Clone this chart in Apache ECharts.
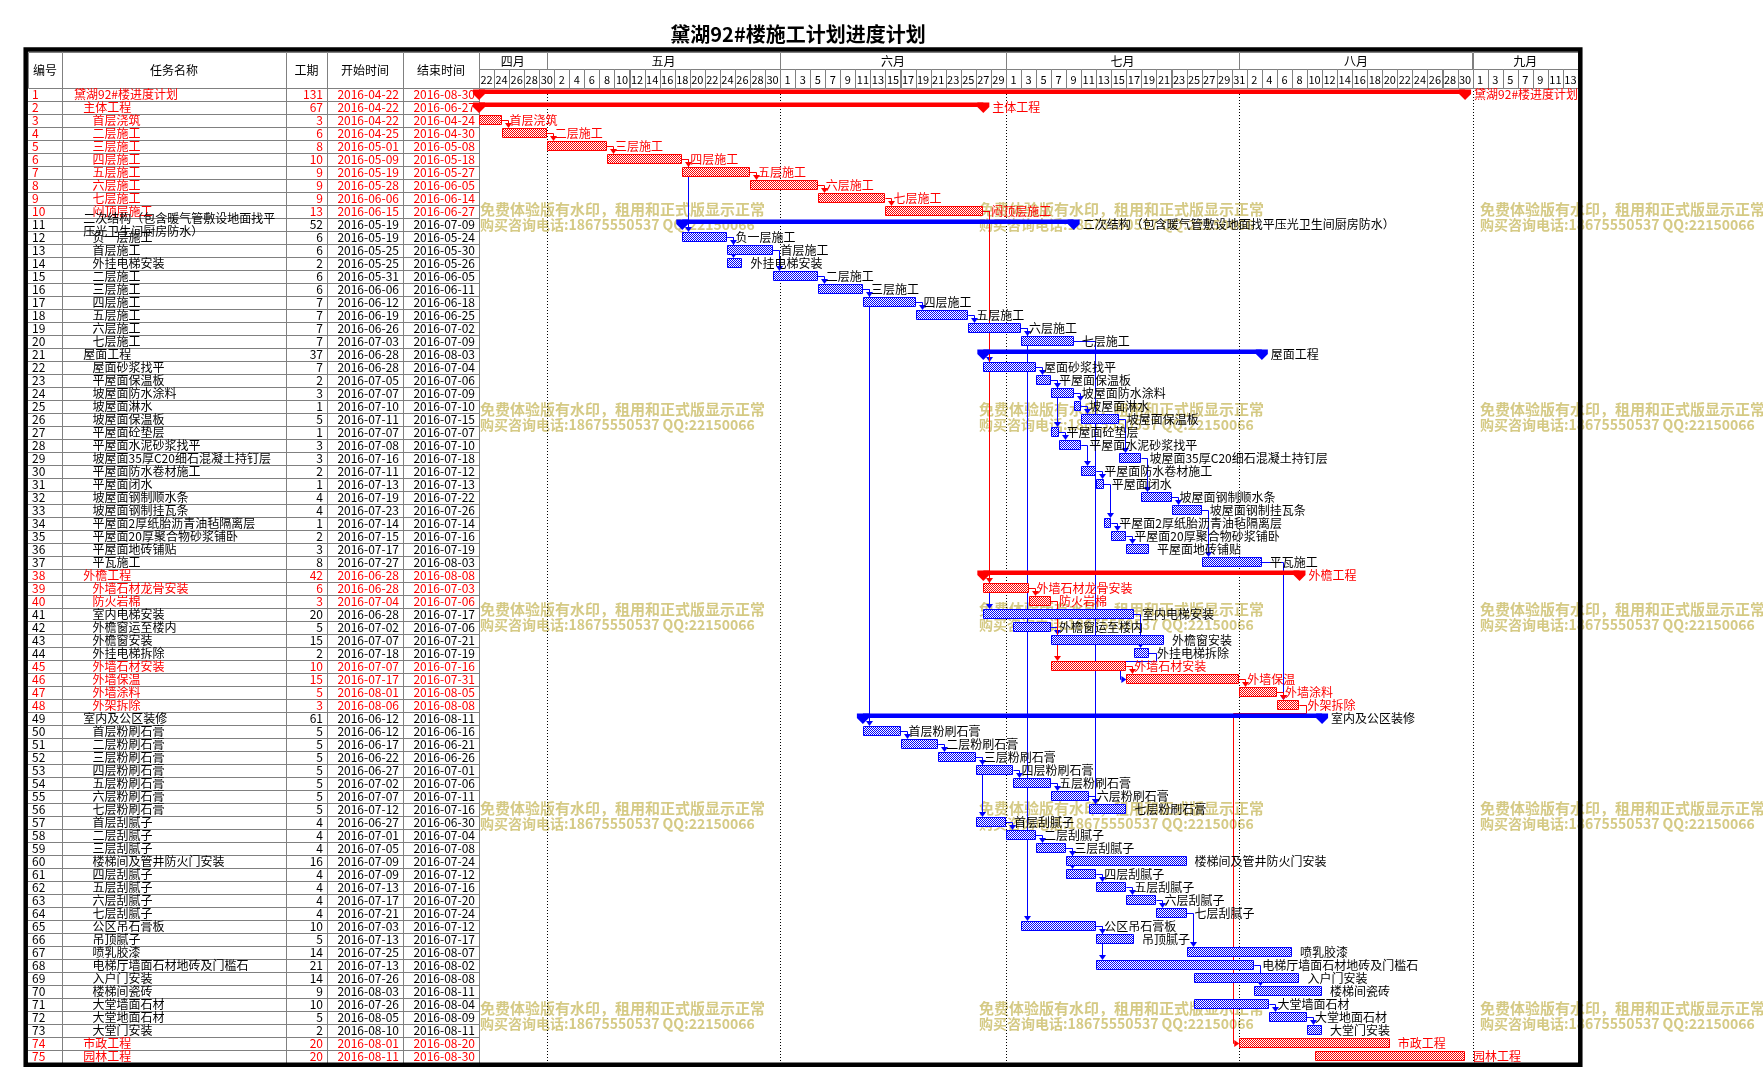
<!DOCTYPE html>
<html><head><meta charset="utf-8">
<script src="https://cdn.jsdelivr.net/npm/echarts@6/dist/echarts.min.js"></script>
<style>html,body{margin:0;padding:0;background:#fff}#c{width:1763px;height:1087px}</style>
</head><body><div id="c"></div><script>
// ---------------- DATA ----------------
const title = '黛湖92#楼施工计划进度计划';
const tableHeaders = ['编号','任务名称','工期','开始时间','结束时间'];
const ids = [1,2,3,4,5,6,7,8,9,10,11,12,13,14,15,16,17,18,19,20,21,22,23,24,25,26,27,28,29,30,31,32,33,34,35,36,37,38,39,40,41,42,43,44,45,46,47,48,49,50,51,52,53,54,55,56,57,58,59,60,61,62,63,64,65,66,67,68,69,70,71,72,73,74,75];
const names = ['黛湖92#楼进度计划','主体工程','首层浇筑','二层施工','三层施工','四层施工','五层施工','六层施工','七层施工','闷顶层施工',
'二次结构（包含暖气管敷设地面找平压光卫生间厨房防水）','负一层施工','首层施工','外挂电梯安装','二层施工','三层施工','四层施工','五层施工','六层施工','七层施工',
'屋面工程','屋面砂浆找平','平屋面保温板','坡屋面防水涂料','坡屋面淋水','坡屋面保温板','平屋面砼垫层','平屋面水泥砂浆找平','坡屋面35厚C20细石混凝土持钉层','平屋面防水卷材施工',
'平屋面闭水','坡屋面钢制顺水条','坡屋面钢制挂瓦条','平屋面2厚纸胎沥青油毡隔离层','平屋面20厚聚合物砂浆铺卧','平屋面地砖铺贴','平瓦施工','外檐工程','外墙石材龙骨安装','防火岩棉',
'室内电梯安装','外檐窗运至楼内','外檐窗安装','外挂电梯拆除','外墙石材安装','外墙保温','外墙涂料','外架拆除','室内及公区装修','首层粉刷石膏',
'二层粉刷石膏','三层粉刷石膏','四层粉刷石膏','五层粉刷石膏','六层粉刷石膏','七层粉刷石膏','首层刮腻子','二层刮腻子','三层刮腻子','楼梯间及管井防火门安装',
'四层刮腻子','五层刮腻子','六层刮腻子','七层刮腻子','公区吊石膏板','吊顶腻子','喷乳胶漆','电梯厅墙面石材地砖及门槛石','入户门安装','楼梯间瓷砖',
'大堂墙面石材','大堂地面石材','大堂门安装','市政工程','园林工程'];
const durations = [131,67,3,6,8,10,9,9,9,13, 52,6,6,2,6,6,7,7,7,7, 37,7,2,3,1,5,1,3,3,2, 1,4,4,1,2,3,8,42,6,3, 20,5,15,2,10,15,5,3,61,5, 5,5,5,5,5,5,4,4,4,16, 4,4,4,4,10,5,14,21,14,9, 10,5,2,20,20];
const starts = ['2016-04-22','2016-04-22','2016-04-22','2016-04-25','2016-05-01','2016-05-09','2016-05-19','2016-05-28','2016-06-06','2016-06-15',
'2016-05-19','2016-05-19','2016-05-25','2016-05-25','2016-05-31','2016-06-06','2016-06-12','2016-06-19','2016-06-26','2016-07-03',
'2016-06-28','2016-06-28','2016-07-05','2016-07-07','2016-07-10','2016-07-11','2016-07-07','2016-07-08','2016-07-16','2016-07-11',
'2016-07-13','2016-07-19','2016-07-23','2016-07-14','2016-07-15','2016-07-17','2016-07-27','2016-06-28','2016-06-28','2016-07-04',
'2016-06-28','2016-07-02','2016-07-07','2016-07-18','2016-07-07','2016-07-17','2016-08-01','2016-08-06','2016-06-12','2016-06-12',
'2016-06-17','2016-06-22','2016-06-27','2016-07-02','2016-07-07','2016-07-12','2016-06-27','2016-07-01','2016-07-05','2016-07-09',
'2016-07-09','2016-07-13','2016-07-17','2016-07-21','2016-07-03','2016-07-13','2016-07-25','2016-07-13','2016-07-26','2016-08-03',
'2016-07-26','2016-08-05','2016-08-10','2016-08-01','2016-08-11'];
const ends = ['2016-08-30','2016-06-27','2016-04-24','2016-04-30','2016-05-08','2016-05-18','2016-05-27','2016-06-05','2016-06-14','2016-06-27',
'2016-07-09','2016-05-24','2016-05-30','2016-05-26','2016-06-05','2016-06-11','2016-06-18','2016-06-25','2016-07-02','2016-07-09',
'2016-08-03','2016-07-04','2016-07-06','2016-07-09','2016-07-10','2016-07-15','2016-07-07','2016-07-10','2016-07-18','2016-07-12',
'2016-07-13','2016-07-22','2016-07-26','2016-07-14','2016-07-16','2016-07-19','2016-08-03','2016-08-08','2016-07-03','2016-07-06',
'2016-07-17','2016-07-06','2016-07-21','2016-07-19','2016-07-16','2016-07-31','2016-08-05','2016-08-08','2016-08-11','2016-06-16',
'2016-06-21','2016-06-26','2016-07-01','2016-07-06','2016-07-11','2016-07-16','2016-06-30','2016-07-04','2016-07-08','2016-07-24',
'2016-07-12','2016-07-16','2016-07-20','2016-07-24','2016-07-12','2016-07-17','2016-08-07','2016-08-02','2016-08-08','2016-08-11',
'2016-08-04','2016-08-09','2016-08-11','2016-08-20','2016-08-30'];
const levels = [0,1,2,2,2,2,2,2,2,2, 1,2,2,2,2,2,2,2,2,2, 1,2,2,2,2,2,2,2,2,2, 2,2,2,2,2,2,2,1,2,2, 2,2,2,2,2,2,2,2,1,2, 2,2,2,2,2,2,2,2,2,2, 2,2,2,2,2,2,2,2,2,2, 2,2,2,1,1];
const critical = [1,1,1,1,1,1,1,1,1,1, 0,0,0,0,0,0,0,0,0,0, 0,0,0,0,0,0,0,0,0,0, 0,0,0,0,0,0,0,1,1,1, 0,0,0,0,1,1,1,1,0,0, 0,0,0,0,0,0,0,0,0,0, 0,0,0,0,0,0,0,0,0,0, 0,0,0,1,1];
const summary = [1,1,0,0,0,0,0,0,0,0, 1,0,0,0,0,0,0,0,0,0, 1,0,0,0,0,0,0,0,0,0, 0,0,0,0,0,0,0,1,0,0, 0,0,0,0,0,0,0,0,1,0, 0,0,0,0,0,0,0,0,0,0, 0,0,0,0,0,0,0,0,0,0, 0,0,0,0,0];
// dependency links: [predecessor row, successor row]
const links = [[3,4],[4,5],[5,6],[6,7],[7,8],[8,9],[9,10],
[6,12],[12,13],[12,14],[13,15],[15,16],[16,17],[17,18],[18,19],[19,20],
[16,50],[19,65],[20,56],[10,22],[10,39],[10,41],
[22,23],[23,24],[23,27],[24,25],[25,26],[26,29],[27,28],[28,30],[30,31],[31,34],[34,35],[35,36],[29,32],[32,33],[33,37],
[39,40],[40,45],[45,46],[46,47],[47,48],[37,48],[42,43],[41,44],[44,46],[48,74],
[50,51],[51,52],[52,53],[53,54],[54,55],[55,56],[52,57],[57,58],[58,59],[59,60],[59,61],[61,62],[62,63],[63,64],[64,67],
[65,66],[65,68],[68,70],[71,72],[72,73]];
const axisStart = '2016-04-22', axisEnd = '2016-09-15';
const monthLabels = ['四月','五月','六月','七月','八月','九月'];
const monthStarts = ['2016-04-22','2016-05-01','2016-06-01','2016-07-01','2016-08-01','2016-09-01'];
const dayLabels = [22,24,26,28,30, 2,4,6,8,10,12,14,16,18,20,22,24,26,28,30, 1,3,5,7,9,11,13,15,17,19,21,23,25,27,29,
 1,3,5,7,9,11,13,15,17,19,21,23,25,27,29,31, 2,4,6,8,10,12,14,16,18,20,22,24,26,28,30, 1,3,5,7,9,11,13];
const wmLine1 = '免费体验版有水印，租用和正式版显示正常';
const wmLine2 = '购买咨询电话:18675550537 QQ:22150066';

// ---------------- HELPERS ----------------
const RED='#ff0000', BLUE='#0000ff', GRAY='#808080', WM='#d5ca85';
const FF='"Noto Sans CJK SC","Noto Sans",sans-serif';
const F12='12px '+FF;
const T0 = Date.parse(axisStart+'T00:00:00Z');
function dayIdx(s){return Math.round((Date.parse(s+'T00:00:00Z')-T0)/86400000);}
const sIdx = starts.map(dayIdx), eIdx = ends.map(s=>dayIdx(s)+1);
const AXMAX = dayIdx(axisEnd);
const crisp = v => Math.round(v)+0.5;
function makePattern(color){
  const c=document.createElement('canvas'); c.width=2; c.height=2;
  const g=c.getContext('2d'); g.fillStyle='#fff'; g.fillRect(0,0,2,2);
  g.fillStyle=color; g.fillRect(0,0,1,1); g.fillRect(1,1,1,1);
  return {image:c, repeat:'repeat'};
}
const PAT = {[RED]:makePattern(RED),[BLUE]:makePattern(BLUE)};

// layout
const TBL_L=28, TBL_W=451, CH_L=479, CH_W=1099, HEAD_T=52, HEAD_H=36, BODY_T=88, ROW_H=13;
const COLS=[0,34,258,299,375,451];
const MONTH_H=17;

const chart = echarts.init(document.getElementById('c'), null, {renderer:'canvas'});

function tableHeaderItem(params, api){
  const c=api.value(0);
  const a=api.coord([COLS[c],0]), b=api.coord([COLS[c+1],HEAD_H]);
  return {type:'group', children:[
    {type:'rect', shape:{x:crisp(a[0]),y:crisp(a[1]),width:Math.round(b[0]-a[0]),height:Math.round(b[1]-a[1])}, style:{fill:'#fff',stroke:GRAY,lineWidth:1}},
    {type:'text', style:{text:tableHeaders[c], x:(a[0]+b[0])/2, y:(a[1]+b[1])/2, align:'center', verticalAlign:'middle', font:F12, fill:'#000'}}
  ]};
}
function tableRowItem(params, api){
  const i=api.value(1);
  const yc=api.coord([0,i])[1], h=api.size([0,1])[1];
  const top=yc-h/2, bot=yc+h/2;
  const x=c=>api.coord([COLS[c],i])[0];
  const col=critical[i]?RED:'#000';
  const ch=[{type:'line', shape:{x1:x(0),y1:crisp(bot),x2:x(5),y2:crisp(bot)}, style:{stroke:GRAY,lineWidth:1}}];
  for(let c=1;c<=5;c++) ch.push({type:'line', shape:{x1:crisp(x(c)),y1:top,x2:crisp(x(c)),y2:bot}, style:{stroke:GRAY,lineWidth:1}});
  const nx = x(1)+12+9.3*levels[i];
  ch.push({type:'text', style:{text:String(ids[i]), x:x(0)+4, y:yc, align:'left', verticalAlign:'middle', font:F12, fill:col}});
  ch.push({type:'text', style:{text:names[i], x:nx, y:yc, width:x(2)-nx-2, overflow:'break', lineHeight:13, align:'left', verticalAlign:'middle', font:F12, fill:col}});
  ch.push({type:'text', style:{text:String(durations[i]), x:x(3)-4, y:yc, align:'right', verticalAlign:'middle', font:F12, fill:col}});
  ch.push({type:'text', style:{text:starts[i], x:x(4)-4, y:yc, align:'right', verticalAlign:'middle', font:F12, fill:col}});
  ch.push({type:'text', style:{text:ends[i], x:x(5)-4, y:yc, align:'right', verticalAlign:'middle', font:F12, fill:col}});
  return {type:'group', children:ch};
}
function monthItem(params, api){
  const a=api.coord([api.value(0),0]), b=api.coord([api.value(1),MONTH_H]);
  return {type:'group', children:[
    {type:'rect', shape:{x:crisp(a[0]),y:crisp(a[1]),width:Math.round(b[0]-a[0]),height:Math.round(b[1]-a[1])}, style:{fill:'#fff',stroke:GRAY,lineWidth:1}},
    {type:'text', style:{text:monthLabels[api.value(2)], x:(a[0]+b[0])/2, y:(a[1]+b[1])/2+1, align:'center', verticalAlign:'middle', font:F12, fill:'#000'}}
  ]};
}
function dayItem(params, api){
  const a=api.coord([api.value(0),MONTH_H]), b=api.coord([api.value(1),HEAD_H]);
  return {type:'group', children:[
    {type:'rect', shape:{x:crisp(a[0]),y:crisp(a[1]),width:Math.round(b[0]-a[0]),height:Math.round(b[1]-a[1])}, style:{fill:'#fff',stroke:GRAY,lineWidth:1}},
    {type:'text', style:{text:String(dayLabels[api.value(2)]), x:(a[0]+b[0])/2, y:(a[1]+b[1])/2+1, align:'center', verticalAlign:'middle', font:'11px '+FF, fill:'#000'}}
  ]};
}
function monthLineItem(params, api){
  const x=crisp(api.coord([api.value(0),0])[0]);
  const cs=params.coordSys;
  return {type:'line', shape:{x1:x,y1:cs.y,x2:x,y2:cs.y+cs.height}, style:{stroke:'#000',lineWidth:1,lineDash:[1,2]}};
}
function barItem(params, api){
  const i=api.value(2);
  const a=api.coord([api.value(0),i]), b=api.coord([api.value(1),i]);
  const h=api.size([0,1])[1], top=a[1]-h/2;
  const col=critical[i]?RED:BLUE, tcol=critical[i]?RED:'#000';
  const ch=[];
  if(summary[i]){
    const y0=top+1.5, y1=top+6;
    ch.push({type:'rect', shape:{x:a[0],y:y0,width:b[0]-a[0],height:y1-y0}, style:{fill:col}});
    [a[0],b[0]].forEach(x=>ch.push({type:'polygon', shape:{points:[[x-6,y0],[x+6,y0],[x+6,y1],[x,top+12],[x-6,y1]]}, style:{fill:col}}));
    ch.push({type:'text', style:{text:names[i], x:b[0]+9, y:top+6.5, align:'left', verticalAlign:'middle', font:F12, fill:tcol}});
  } else {
    const x0=Math.round(a[0]), x1=Math.round(b[0]);
    ch.push({type:'rect', shape:{x:x0+0.5,y:Math.round(top+1)+0.5,width:x1-x0-1,height:9}, style:{fill:PAT[col],stroke:col,lineWidth:1}});
    ch.push({type:'text', style:{text:names[i], x:b[0]+8, y:top+6.5, align:'left', verticalAlign:'middle', font:F12, fill:tcol}});
  }
  return {type:'group', children:ch};
}
function linkItem(params, api){
  const p=api.value(1), s=api.value(3);
  const pe=api.coord([api.value(0),p]), ss=api.coord([api.value(2),s]);
  const h=api.size([0,1])[1];
  const pTop=pe[1]-h/2, sTop=ss[1]-h/2;
  const col=(critical[p]&&critical[s])?RED:BLUE;
  const py=crisp(pTop+6);
  const ax=crisp(ss[0]+6);
  let pts, arrow;
  if(ax>=pe[0]+2){
    const tip=Math.round(sTop+1);
    pts=[[pe[0],py],[ax,py],[ax,tip-5]];
    arrow=[[ax-3.5,tip-5],[ax+3.5,tip-5],[ax,tip]];
  } else {
    const bx=crisp(pe[0]+7), yb=crisp(pTop+h+1), cx=crisp(ss[0]-6), sy=crisp(sTop+6);
    pts=[[pe[0],py],[bx,py],[bx,yb],[cx,yb],[cx,sy],[ss[0]-5,sy]];
    arrow=[[ss[0]-5,sy-3.5],[ss[0]-5,sy+3.5],[ss[0],sy]];
  }
  return {type:'group', children:[
    {type:'polyline', shape:{points:pts}, style:{stroke:col,lineWidth:1,fill:null}},
    {type:'polygon', shape:{points:arrow}, style:{fill:col}}
  ]};
}

const linkData = links.map(([p,s])=>[eIdx[p-1],p-1,sIdx[s-1],s-1]);
const blueLinks = linkData.filter(d=>!(critical[d[1]]&&critical[d[3]]));
const redLinks = linkData.filter(d=>critical[d[1]]&&critical[d[3]]);

const monthData = monthLabels.map((m,k)=>[Math.max(0,dayIdx(monthStarts[k])), k+1<monthStarts.length?dayIdx(monthStarts[k+1]):AXMAX, k]);
const dayData = dayLabels.map((d,k)=>[2*k,2*k+2,k]);

const WM_X=[480,979,1480], WM_Y=[209,409,609,808,1008];
const graphics=[
  {type:'text', x:798, y:34, style:{text:title, font:'bold 20px '+FF, fill:'#000', align:'center', verticalAlign:'middle'}, z:100}
];
WM_Y.forEach(y=>WM_X.forEach(x=>{
  graphics.push({type:'text', x:x, y:y, silent:true, style:{text:wmLine1, font:'bold 15px '+FF, fill:WM, align:'left', verticalAlign:'middle'}, z:-1});
  graphics.push({type:'text', x:x, y:y+16, silent:true, style:{text:wmLine2, font:'bold 14px '+FF, fill:WM, align:'left', verticalAlign:'middle'}, z:-1});
}));
graphics.push({type:'rect', shape:{x:25.7,y:49.5,width:1554.6,height:1015.3}, style:{fill:null,stroke:'#000',lineWidth:4.5}, z:100});

chart.setOption({
  animation:false,
  backgroundColor:'#fff',
  grid:[
    {left:TBL_L, top:HEAD_T, width:TBL_W, height:HEAD_H},
    {left:TBL_L, top:BODY_T, width:TBL_W, height:ROW_H*ids.length},
    {left:CH_L, top:HEAD_T, width:CH_W, height:HEAD_H},
    {left:CH_L, top:BODY_T, width:CH_W, height:ROW_H*ids.length}
  ],
  xAxis:[
    {gridIndex:0,type:'value',min:0,max:TBL_W,show:false},
    {gridIndex:1,type:'value',min:0,max:TBL_W,show:false},
    {gridIndex:2,type:'value',min:0,max:AXMAX,show:false},
    {gridIndex:3,type:'value',min:0,max:AXMAX,show:false}
  ],
  yAxis:[
    {gridIndex:0,type:'value',min:0,max:HEAD_H,inverse:true,show:false},
    {gridIndex:1,type:'category',data:ids.map(String),inverse:true,show:false},
    {gridIndex:2,type:'value',min:0,max:HEAD_H,inverse:true,show:false},
    {gridIndex:3,type:'category',data:ids.map(String),inverse:true,show:false}
  ],
  graphic:graphics,
  series:[
    {type:'custom', xAxisIndex:0, yAxisIndex:0, data:tableHeaders.map((t,c)=>[c,0]), renderItem:tableHeaderItem, silent:true},
    {type:'custom', xAxisIndex:1, yAxisIndex:1, data:ids.map((d,i)=>[0,i]), renderItem:tableRowItem, silent:true},
    {type:'custom', xAxisIndex:2, yAxisIndex:2, data:monthData, encode:{x:[0,1]}, renderItem:monthItem, silent:true},
    {type:'custom', xAxisIndex:2, yAxisIndex:2, data:dayData, encode:{x:[0,1]}, renderItem:dayItem, silent:true},
    {type:'custom', xAxisIndex:3, yAxisIndex:3, data:monthStarts.slice(1).map(s=>[dayIdx(s),0]), renderItem:monthLineItem, silent:true, z:1},
    {type:'custom', xAxisIndex:3, yAxisIndex:3, data:blueLinks, encode:{x:[0,2],y:[1,3]}, renderItem:linkItem, silent:true, z:3},
    {type:'custom', xAxisIndex:3, yAxisIndex:3, data:redLinks, encode:{x:[0,2],y:[1,3]}, renderItem:linkItem, silent:true, z:4},
    {type:'custom', xAxisIndex:3, yAxisIndex:3, data:ids.map((d,i)=>[sIdx[i],eIdx[i],i]), encode:{x:[0,1],y:2}, renderItem:barItem, silent:true, z:5}
  ]
});
</script></body></html>
